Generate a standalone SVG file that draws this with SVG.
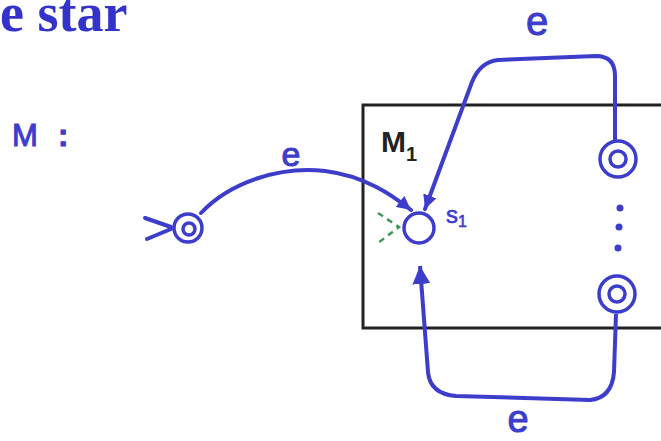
<svg xmlns="http://www.w3.org/2000/svg" width="661" height="441" viewBox="0 0 661 441">
<style>
.ink{fill:none;stroke:#3d3dcc;stroke-width:4;stroke-linecap:round;stroke-linejoin:round}
.ring{fill:#fff;stroke:#3d3dcc;stroke-width:3.5}
.hand{font-family:"Liberation Sans",Arial,sans-serif;fill:#3d3dcc;stroke:#3d3dcc;stroke-width:1}
.dot{fill:#3d3dcc}
</style>
<defs>
<marker id="ah" viewBox="0 0 18 18" refX="18" refY="9" markerWidth="18" markerHeight="18" markerUnits="userSpaceOnUse" orient="auto">
<path d="M0,0 L18,9 L0,18 z" fill="#3d3dcc"/>
</marker>
<marker id="ahs" viewBox="0 0 14 14" refX="14" refY="7" markerWidth="14" markerHeight="14" markerUnits="userSpaceOnUse" orient="auto">
<path d="M0,0 L14,7 L0,14 z" fill="#3d3dcc"/>
</marker>
</defs>
<rect width="661" height="441" fill="#fff"/>
<g id="title"><text x="0" y="31" font-family="'Liberation Serif','Times New Roman',serif" font-weight="bold" font-size="54" fill="#3333cc">e star</text></g>
<g id="label-M"><text class="hand" y="146" font-size="31"><tspan x="12">M</tspan><tspan x="58" font-weight="bold">:</tspan></text></g>
<g id="box-M1">
<rect x="363" y="105" width="310" height="223" fill="none" stroke="#222" stroke-width="3"/>
<text x="381" y="152" font-family="'Liberation Sans',Arial,sans-serif" font-size="30" font-weight="bold" fill="#222">M<tspan font-size="20" dy="9">1</tspan></text>
</g>
<g id="connectors">
<path class="ink" d="M201,213 C230,182 280,166 325,171 C365,176 392,195 411,210" marker-end="url(#ahs)"/>
<path class="ink" d="M615,139 L615,76 Q615,56 596,56 L498,60 Q480,62 472,82 L425,209" marker-end="url(#ahs)"/>
<path class="ink" d="M616,314 L614,372 Q612,398 590,400 L456,396 Q430,394 428,372 L420,266" marker-end="url(#ah)" style="stroke-linecap:butt"/>
<path d="M145,218 L171,227 M147,239 L171,229" class="ink"/>
<path d="M378,213 L399,227 L378,243" fill="none" stroke="#3a9a55" stroke-width="2.5" stroke-dasharray="6,5"/>
<text class="hand" x="291" y="166" font-size="34" text-anchor="middle">e</text>
<text class="hand" x="537" y="35" font-size="40" text-anchor="middle">e</text>
<text class="hand" x="518" y="432" font-size="38" text-anchor="middle">e</text>
</g>
<g id="q0">
<circle class="ring" cx="188" cy="228" r="14"/>
<circle class="ring" cx="189" cy="229" r="6"/>
</g>
<g id="s1">
<circle class="ring" cx="419" cy="228" r="15"/>
<text class="hand" x="446" y="223" font-size="24" style="stroke-width:0.6">s<tspan font-size="16" dy="4">1</tspan></text>
</g>
<g id="f1">
<circle class="ring" cx="618" cy="159" r="18"/>
<circle class="ring" cx="618" cy="159" r="8"/>
</g>
<g id="dots">
<circle class="dot" cx="620" cy="208" r="3.5"/>
<circle class="dot" cx="619" cy="227" r="3.5"/>
<circle class="dot" cx="618" cy="248" r="3.5"/>
</g>
<g id="f2">
<circle class="ring" cx="617" cy="294" r="18"/>
<circle class="ring" cx="617" cy="294" r="8"/>
</g>
</svg>
